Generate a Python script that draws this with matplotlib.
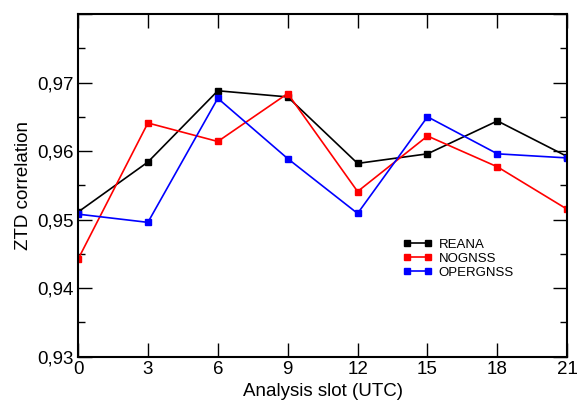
import matplotlib
matplotlib.use("Agg")
import matplotlib.pyplot as plt
from matplotlib.ticker import MultipleLocator, FuncFormatter

plt.rcParams['font.family'] = ['Liberation Sans', 'DejaVu Sans']

# analysis slots (UTC)
slots = [0, 3, 6, 9, 12, 15, 18, 21]

reana = [0.9511, 0.9584, 0.9688, 0.9679, 0.9582, 0.9596, 0.9644, 0.9592]
nognss = [0.9442, 0.9641, 0.9614, 0.9684, 0.9541, 0.9622, 0.9577, 0.9515]
opergnss = [0.9508, 0.9496, 0.9677, 0.9589, 0.9509, 0.9650, 0.9596, 0.9590]

fig = plt.figure(figsize=(5.79, 4.0), dpi=100)
ax = fig.add_axes([78/579, 1-356.7/400, (567.3-78)/579, (356.7-14)/400])

ax.plot(slots, reana, color="black", marker="s", markersize=4.5, linewidth=1.2, label="REANA")
ax.plot(slots, nognss, color="red", marker="s", markersize=4.5, linewidth=1.2, label="NOGNSS")
ax.plot(slots, opergnss, color="blue", marker="s", markersize=4.5, linewidth=1.2, label="OPERGNSS")

ax.set_xlim(0, 21)
ax.set_ylim(0.93, 0.98)
ax.set_xticks(slots)
ax.yaxis.set_major_locator(MultipleLocator(0.01))
ax.yaxis.set_minor_locator(MultipleLocator(0.005))
ax.yaxis.set_major_formatter(FuncFormatter(lambda v, p: ("%.2f" % v).replace(".", ",") if v < 0.975 else ""))

ax.tick_params(which="both", direction="in", top=True, right=True, labelsize=13.5, pad=3)
ax.tick_params(which="major", length=10, width=1)
ax.tick_params(which="minor", length=5, width=1)
for s in ax.spines.values():
    s.set_linewidth(1.5)

ax.set_xlabel("Analysis slot (UTC)", fontsize=13.5, labelpad=4)
ax.set_ylabel("ZTD correlation", fontsize=13.5, labelpad=4)

ax.legend(loc="upper left", bbox_to_anchor=(0.64, 0.38), frameon=False, fontsize=9.5,
          numpoints=2, handlelength=2.2, handletextpad=0.5, labelspacing=0.15, markerscale=0.9)

plt.savefig("out.png", dpi=100)
